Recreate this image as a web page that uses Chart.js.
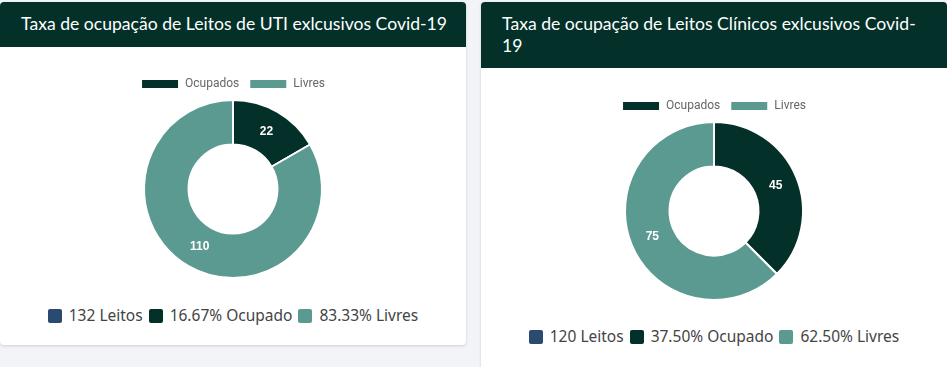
<!DOCTYPE html>
<html lang="pt-BR">
<head>
<meta charset="utf-8">
<title>Ocupação de Leitos Covid-19</title>
<script src="https://cdn.jsdelivr.net/npm/chart.js@4.4.1/dist/chart.umd.min.js"></script>
<style>
  body { margin: 0; background: #f3f4f8; font-family: "Noto Sans", sans-serif; }
  .card {
    position: absolute; top: 2px; width: 466px; background: #fff;
    border-radius: 4px; box-shadow: 0 1px 3px rgba(0,0,0,0.15); overflow: hidden;
  }
  #card1 { left: 0; height: 343px; }
  #card2 { left: 481px; height: 380px; }
  .card h3 {
    margin: 0; background: #033028; color: #fff; font-weight: 400;
    font-family: Lato, sans-serif;
    font-size: 17.6px; line-height: 21.5px; padding: 11px 10px 12px 21px;
  }
  #card2 h3 { padding-right: 30px; }
  .chart-box { position: absolute; left: 0; width: 466px; height: 244px; }
  .bottom-legend {
    position: absolute; left: 0; width: 466px; text-align: center;
    font-size: 15.5px; color: #444; white-space: nowrap;
  }
  .bottom-legend span { display: inline-block; margin: 0 3px; }
  .bottom-legend i {
    display: inline-block; width: 14px; height: 14px; border-radius: 2px;
    vertical-align: -2px; margin-right: 7px;
  }
</style>
</head>
<body>

<div class="card" id="card1">
  <h3>Taxa de ocupação de Leitos de UTI exlcusivos Covid-19</h3>
  <div class="chart-box" style="top:44px"><canvas id="utiChart"></canvas></div>
  <div class="bottom-legend" id="utiLegend" style="top:302px"></div>
</div>

<div class="card" id="card2">
  <h3>Taxa de ocupação de Leitos Clínicos exlcusivos Covid-19</h3>
  <div class="chart-box" style="top:66px"><canvas id="clinChart"></canvas></div>
  <div class="bottom-legend" id="clinLegend" style="top:323px"></div>
</div>

<script>
// categorias
const labels = ['Ocupados', 'Livres'];
const colors = ['#033028', '#5a9a90'];
const totalColor = '#2b4a6f';

// valores UTI
const utiValues = [22, 110];
const utiLegend = ['132 Leitos', '16.67% Ocupado', '83.33% Livres'];

// valores Clinicos
const clinValues = [45, 75];
const clinLegend = ['120 Leitos', '37.50% Ocupado', '62.50% Livres'];

// numeros brancos no meio das fatias
const valueLabels = {
  id: 'valueLabels',
  afterDatasetsDraw(chart) {
    const ctx = chart.ctx;
    const ds = chart.data.datasets[0];
    chart.getDatasetMeta(0).data.forEach(function (arc, i) {
      const p = arc.tooltipPosition();
      ctx.save();
      ctx.fillStyle = '#fff';
      ctx.font = 'bold 12px Arial, "Liberation Sans"';
      ctx.textAlign = 'center';
      ctx.textBaseline = 'middle';
      ctx.fillText(ds.data[i], p.x, p.y);
      ctx.restore();
    });
  }
};

// legenda mais baixa, como no chart.js antigo
const tightLegend = {
  id: 'tightLegend',
  beforeLayout(chart) {
    const lg = chart.legend;
    if (lg && !lg._tight) {
      const fit = lg.fit;
      lg.fit = function () { fit.call(this); this.height -= 1; };
      lg._tight = true;
    }
  }
};

function makeDoughnut(canvasId, values) {
  return new Chart(document.getElementById(canvasId), {
    type: 'doughnut',
    data: {
      labels: labels,
      datasets: [{
        data: values,
        backgroundColor: colors,
        borderColor: '#fff',
        borderWidth: 2,
        hoverOffset: 0
      }]
    },
    options: {
      responsive: true,
      maintainAspectRatio: false,
      animation: false,
      cutout: '50%',
      layout: { padding: { top: 22, bottom: 11 } },
      plugins: {
        legend: {
          position: 'top',
          labels: {
            boxWidth: 38,
            boxHeight: 10,
            padding: 10,
            color: '#666',
            font: { family: 'Roboto', size: 12 }
          }
        },
        tooltip: { enabled: false }
      }
    },
    plugins: [valueLabels, tightLegend]
  });
}

function fillLegend(id, texts) {
  const el = document.getElementById(id);
  const sw = [totalColor, colors[0], colors[1]];
  texts.forEach(function (t, i) {
    const s = document.createElement('span');
    s.innerHTML = '<i style="background:' + sw[i] + '"></i>' + t;
    el.appendChild(s);
  });
}

makeDoughnut('utiChart', utiValues);
makeDoughnut('clinChart', clinValues);
fillLegend('utiLegend', utiLegend);
fillLegend('clinLegend', clinLegend);
</script>
</body>
</html>
